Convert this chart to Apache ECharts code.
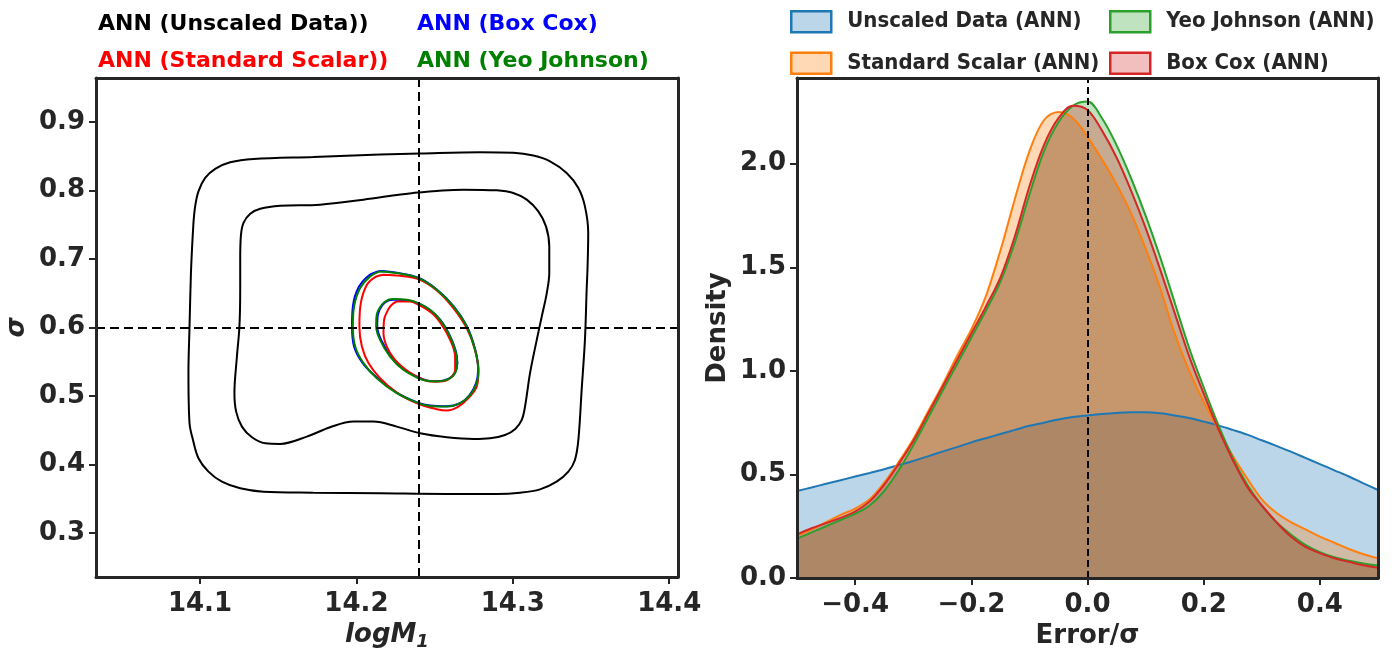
<!DOCTYPE html>
<html>
<head>
<meta charset="utf-8">
<script src="https://cdn.jsdelivr.net/npm/echarts@6/dist/echarts.min.js"></script>
<style>
  html, body { margin: 0; padding: 0; background: #fff; }
  #chart { width: 1400px; height: 657px; }
</style>
</head>
<body>
<div id="chart"></div>
<script>
// ---------- left panel: posterior contours in (logM1, sigma) ----------
const logM1Ticks = [14.1, 14.2, 14.3, 14.4];
const sigmaTicks = [0.3, 0.4, 0.5, 0.6, 0.7, 0.8, 0.9];
const trueLogM1 = 14.24;
const trueSigma = 0.6;

// Unscaled data: two broad contour levels
const unscaledOuter = [
  [14.0958,0.7526],[14.0969,0.7769],[14.0990,0.7988],[14.1033,0.8184],[14.1097,0.8316],
  [14.1193,0.8412],[14.1342,0.8462],[14.1725,0.8491],[14.2151,0.8525],[14.2407,0.8540],
  [14.2790,0.8558],[14.3003,0.8550],[14.3131,0.8510],[14.3238,0.8427],[14.3344,0.8257],
  [14.3419,0.8038],[14.3461,0.7769],[14.3482,0.7380],[14.3478,0.6900],[14.3472,0.6551],
  [14.3461,0.5820],[14.3440,0.5089],[14.3419,0.4358],[14.3397,0.4066],[14.3355,0.3895],
  [14.3280,0.3749],[14.3174,0.3637],[14.3046,0.3588],[14.2897,0.3569],[14.2578,0.3569],
  [14.2151,0.3579],[14.1725,0.3588],[14.1406,0.3602],[14.1257,0.3652],[14.1140,0.3749],
  [14.1054,0.3895],[14.0990,0.4091],[14.0955,0.4358],[14.0933,0.4602],[14.0926,0.5333],
  [14.0933,0.6015],[14.0942,0.6795],[14.0950,0.7200],[14.0958,0.7526]
];
const unscaledInner = [
  [14.1257,0.6990],[14.1261,0.7330],[14.1278,0.7526],[14.1321,0.7662],[14.1385,0.7735],
  [14.1512,0.7779],[14.1768,0.7794],[14.2045,0.7867],[14.2364,0.7965],[14.2684,0.8013],
  [14.2897,0.8003],[14.3003,0.7965],[14.3089,0.7867],[14.3163,0.7696],[14.3212,0.7477],
  [14.3233,0.7184],[14.3233,0.6795],[14.3217,0.6503],[14.3185,0.6161],[14.3153,0.5820],
  [14.3110,0.5333],[14.3078,0.4845],[14.3057,0.4651],[14.3014,0.4515],[14.2950,0.4431],
  [14.2854,0.4383],[14.2748,0.4373],[14.2578,0.4398],[14.2407,0.4456],[14.2258,0.4553],
  [14.2109,0.4626],[14.1981,0.4626],[14.1832,0.4544],[14.1683,0.4406],[14.1512,0.4300],
  [14.1417,0.4309],[14.1332,0.4397],[14.1268,0.4553],[14.1231,0.4772],[14.1220,0.5041],
  [14.1236,0.5576],[14.1252,0.6015],[14.1257,0.6551],[14.1257,0.6990]
];

// Box Cox
const boxCoxOuter = [
  [14.2151,0.6824],[14.2258,0.6800],[14.2396,0.6727],[14.2514,0.6556],[14.2622,0.6310],
  [14.2707,0.6015],[14.2760,0.5674],[14.2778,0.5382],[14.2765,0.5187],[14.2722,0.5010],
  [14.2660,0.4890],[14.2578,0.4850],[14.2471,0.4860],[14.2396,0.4900],[14.2260,0.5046],
  [14.2133,0.5265],[14.2040,0.5480],[14.1985,0.5722],[14.1972,0.6015],[14.1978,0.6320],
  [14.2015,0.6590],[14.2080,0.6760],[14.2151,0.6824]
];
const boxCoxInner = [
  [14.2237,0.6405],[14.2322,0.6398],[14.2396,0.6350],[14.2473,0.6252],[14.2538,0.6108],
  [14.2590,0.5915],[14.2633,0.5674],[14.2645,0.5485],[14.2630,0.5340],[14.2588,0.5250],
  [14.2514,0.5215],[14.2450,0.5228],[14.2400,0.5268],[14.2305,0.5390],[14.2222,0.5580],
  [14.2158,0.5820],[14.2133,0.6015],[14.2137,0.6186],[14.2167,0.6330],[14.2208,0.6398],
  [14.2237,0.6405]
];

// Standard Scalar
const standardOuter = [
  [14.2173,0.6770],[14.2279,0.6756],[14.2396,0.6708],[14.2514,0.6541],[14.2620,0.6284],
  [14.2705,0.5991],[14.2758,0.5674],[14.2780,0.5357],[14.2769,0.5137],[14.2716,0.4968],
  [14.2652,0.4845],[14.2578,0.4787],[14.2514,0.4807],[14.2396,0.4885],[14.2258,0.5050],
  [14.2151,0.5260],[14.2077,0.5480],[14.2035,0.5722],[14.2019,0.6015],[14.2028,0.6357],
  [14.2067,0.6624],[14.2120,0.6737],[14.2173,0.6770]
];
const standardInner = [
  [14.2258,0.6380],[14.2343,0.6380],[14.2396,0.6332],[14.2482,0.6211],[14.2546,0.6039],
  [14.2599,0.5820],[14.2631,0.5576],[14.2631,0.5382],[14.2599,0.5260],[14.2535,0.5211],
  [14.2471,0.5211],[14.2407,0.5260],[14.2332,0.5357],[14.2247,0.5528],[14.2194,0.5722],
  [14.2173,0.5918],[14.2177,0.6113],[14.2205,0.6269],[14.2226,0.6332],[14.2258,0.6380]
];

// Yeo Johnson
const yeoOuter = [
  [14.2151,0.6819],[14.2258,0.6795],[14.2396,0.6722],[14.2514,0.6551],[14.2620,0.6307],
  [14.2705,0.6015],[14.2758,0.5674],[14.2780,0.5382],[14.2769,0.5187],[14.2727,0.5016],
  [14.2663,0.4895],[14.2578,0.4845],[14.2471,0.4855],[14.2396,0.4895],[14.2258,0.5041],
  [14.2130,0.5260],[14.2045,0.5480],[14.1992,0.5722],[14.1977,0.6015],[14.1985,0.6307],
  [14.2024,0.6576],[14.2088,0.6746],[14.2151,0.6819]
];
const yeoInner = [
  [14.2237,0.6415],[14.2322,0.6405],[14.2396,0.6357],[14.2471,0.6259],[14.2535,0.6113],
  [14.2588,0.5918],[14.2631,0.5674],[14.2645,0.5480],[14.2631,0.5333],[14.2588,0.5246],
  [14.2514,0.5211],[14.2450,0.5221],[14.2396,0.5260],[14.2300,0.5382],[14.2215,0.5576],
  [14.2151,0.5820],[14.2126,0.6015],[14.2130,0.6186],[14.2162,0.6332],[14.2205,0.6405],
  [14.2237,0.6415]
];

// ---------- right panel: KDE of Error/sigma ----------
const errorGrid = [
  -0.5,-0.475,-0.45,-0.425,-0.4,-0.375,-0.35,-0.325,-0.3,-0.275,-0.25,-0.225,-0.2,-0.175,
  -0.15,-0.125,-0.1,-0.075,-0.05,-0.025,0,0.025,0.05,0.075,0.1,0.125,0.15,0.175,0.2,0.225,
  0.25,0.275,0.3,0.325,0.35,0.375,0.4,0.425,0.45,0.475,0.5
];
const densityUnscaled = [
  0.42,0.437,0.455,0.472,0.49,0.507,0.525,0.545,0.565,0.587,0.61,0.632,0.655,0.675,
  0.695,0.715,0.735,0.75,0.765,0.777,0.785,0.792,0.797,0.80,0.80,0.795,0.785,0.772,0.755,0.737,
  0.715,0.692,0.665,0.638,0.61,0.58,0.55,0.52,0.49,0.457,0.425
];
const densityStandard = [
  0.205,0.235,0.27,0.305,0.335,0.38,0.46,0.56,0.67,0.80,0.93,1.07,1.20,1.36,
  1.58,1.83,2.06,2.21,2.25,2.22,2.13,2.02,1.90,1.76,1.59,1.40,1.18,1.00,0.85,0.72,
  0.59,0.48,0.38,0.315,0.27,0.235,0.20,0.17,0.14,0.115,0.095
];
const densityYeo = [
  0.19,0.22,0.25,0.28,0.31,0.35,0.42,0.52,0.64,0.77,0.90,1.03,1.16,1.29,
  1.43,1.62,1.85,2.06,2.20,2.28,2.30,2.22,2.09,1.93,1.75,1.55,1.33,1.11,0.92,0.74,
  0.58,0.45,0.35,0.27,0.21,0.16,0.125,0.10,0.083,0.07,0.06
];
const densityBoxCox = [
  0.21,0.24,0.265,0.29,0.32,0.37,0.45,0.55,0.66,0.79,0.92,1.05,1.18,1.31,
  1.45,1.65,1.89,2.09,2.22,2.28,2.26,2.16,2.03,1.87,1.69,1.49,1.28,1.07,0.89,0.72,
  0.57,0.44,0.35,0.27,0.20,0.15,0.12,0.095,0.078,0.062,0.05
];
const errorTicks = [-0.4, -0.2, 0.0, 0.2, 0.4];
const densityTicks = [0.0, 0.5, 1.0, 1.5, 2.0];

const FONT = '"DejaVu Sans", sans-serif';
const INK = '#262626';

const chart = echarts.init(document.getElementById('chart'), null, { renderer: 'canvas' });

function fmt(v) {
  return (v < 0 ? '\u2212' : '') + Math.abs(v).toFixed(1);
}
function pairs(xs, ys) { return xs.map((x, i) => [x, ys[i]]); }

const tickLabel = { fontFamily: FONT, fontWeight: 'bold', fontSize: 26, color: INK };

function mainX(grid, min, max, ticks, name, nameGap, rich) {
  return {
    type: 'value', gridIndex: grid, min: min, max: max, z: 10,
    axisLine: { show: true, onZero: false, lineStyle: { color: INK, width: 3 } },
    axisTick: { show: true, length: 7, lineStyle: { color: INK, width: 2 }, customValues: ticks },
    axisLabel: Object.assign({ margin: 14, formatter: fmt, customValues: ticks }, tickLabel),
    splitLine: { show: false },
    name: name, nameLocation: 'middle', nameGap: nameGap,
    nameTextStyle: Object.assign({ fontFamily: FONT, fontWeight: 'bold', fontSize: 26, color: INK }, rich || {})
  };
}
function mainY(grid, min, max, ticks, name, nameGap, extra) {
  return {
    type: 'value', gridIndex: grid, min: min, max: max, z: 10,
    axisLine: { show: true, onZero: false, lineStyle: { color: INK, width: 3 } },
    axisTick: { show: true, length: 7, lineStyle: { color: INK, width: 2 }, customValues: ticks },
    axisLabel: Object.assign({ margin: 11, formatter: fmt, customValues: ticks }, tickLabel),
    splitLine: { show: false },
    name: name, nameLocation: 'middle', nameGap: nameGap, nameRotate: 90,
    nameTextStyle: Object.assign({ fontFamily: FONT, fontWeight: 'bold', fontSize: 26, color: INK }, extra || {})
  };
}
function spine(grid, min, max, pos) {
  return {
    type: 'value', gridIndex: grid, min: min, max: max, position: pos, z: 10,
    axisLine: { show: true, onZero: false, lineStyle: { color: INK, width: 3 } },
    axisTick: { show: false }, axisLabel: { show: false }, splitLine: { show: false }
  };
}

const LX = [14.0335, 14.4056], LY = [0.2357, 0.9643];
const RX = [-0.5, 0.5], RY = [0, 2.414];

function contour(name, data, color, width, extra) {
  return Object.assign({
    type: 'line', name: name, xAxisIndex: 0, yAxisIndex: 0,
    data: data, showSymbol: false, symbol: 'none', smooth: 0.35,
    lineStyle: { color: color, width: width }, silent: true
  }, extra || {});
}
function kde(name, ys, color, extra) {
  return Object.assign({
    type: 'line', name: name, xAxisIndex: 1, yAxisIndex: 1,
    data: pairs(errorGrid, ys), showSymbol: false, symbol: 'none', smooth: 0.35,
    lineStyle: { color: color, width: 2 }, itemStyle: { color: color },
    areaStyle: { color: color, opacity: 0.3 }, silent: true
  }, extra || {});
}

const dashed = { color: '#000', width: 2, type: [9, 5] };

const colors = { unscaled: '#1f77b4', standard: '#ff7f0e', yeo: '#2ca02c', boxcox: '#d62728' };
function legendItem(name, color, rgba) {
  return { name: name, icon: 'rect', itemStyle: { color: rgba, borderColor: color, borderWidth: 2.5 } };
}
const legendText = { fontFamily: '"DejaVu Sans Condensed", "DejaVu Sans", sans-serif', fontWeight: 'bold', fontSize: 22, color: INK, padding: [0, 0, 0, 11] };

chart.setOption({
  animation: false,
  backgroundColor: '#fff',
  grid: [
    { left: 96, top: 78, width: 582, height: 499 },
    { left: 797, top: 78, width: 581, height: 500 }
  ],
  xAxis: [
    mainX(0, LX[0], LX[1], logM1Ticks, '{m|logM}{s|1}', 42, {
      rich: {
        m: { fontFamily: FONT, fontWeight: 'bold', fontStyle: 'italic', fontSize: 26, color: INK },
        s: { fontFamily: FONT, fontWeight: 'bold', fontStyle: 'italic', fontSize: 18, color: INK, padding: [14, 0, 0, 0] }
      }
    }),
    mainX(1, RX[0], RX[1], errorTicks, 'Error/\u03c3', 43),
    spine(0, LX[0], LX[1], 'top'),
    spine(1, RX[0], RX[1], 'top')
  ],
  yAxis: [
    mainY(0, LY[0], LY[1], sigmaTicks, '\u03c3', 66, { fontStyle: 'italic' }),
    mainY(1, RY[0], RY[1], densityTicks, 'Density', 66),
    spine(0, LY[0], LY[1], 'right'),
    spine(1, RY[0], RY[1], 'right')
  ],
  legend: [
    {
      left: 790, top: 10, orient: 'vertical', itemWidth: 40, itemHeight: 21, itemGap: 18, padding: 0,
      selectedMode: false, textStyle: legendText,
      data: [
        legendItem('Unscaled Data (ANN)', colors.unscaled, 'rgba(31,119,180,0.3)'),
        legendItem('Standard Scalar (ANN)', colors.standard, 'rgba(255,127,14,0.3)')
      ]
    },
    {
      left: 1109, top: 10, orient: 'vertical', itemWidth: 40, itemHeight: 21, itemGap: 18, padding: 0,
      selectedMode: false, textStyle: legendText,
      data: [
        legendItem('Yeo Johnson (ANN)', colors.yeo, 'rgba(44,160,44,0.3)'),
        legendItem('Box Cox (ANN)', colors.boxcox, 'rgba(214,39,40,0.3)')
      ]
    }
  ],
  graphic: [
    { type: 'text', left: 98, top: 13, silent: true,
      style: { text: 'ANN (Unscaled Data))', fill: '#000', font: 'bold 22px ' + FONT } },
    { type: 'text', left: 417, top: 13, silent: true,
      style: { text: 'ANN (Box Cox)', fill: '#0000ff', font: 'bold 22px ' + FONT } },
    { type: 'text', left: 98, top: 50, silent: true,
      style: { text: 'ANN (Standard Scalar))', fill: '#ff0000', font: 'bold 22px ' + FONT } },
    { type: 'text', left: 417, top: 50, silent: true,
      style: { text: 'ANN (Yeo Johnson)', fill: '#008000', font: 'bold 22px ' + FONT } }
  ],
  series: [
    contour('Unscaled outer', unscaledOuter, '#000', 2),
    contour('Unscaled inner', unscaledInner, '#000', 2, {
      markLine: {
        silent: true, symbol: 'none', label: { show: false }, lineStyle: dashed,
        data: [{ xAxis: trueLogM1 }, { yAxis: trueSigma }]
      }
    }),
    contour('Box Cox outer', boxCoxOuter, '#0000ff', 2),
    contour('Box Cox inner', boxCoxInner, '#0000ff', 2),
    contour('Standard outer', standardOuter, '#ff0000', 2),
    contour('Standard inner', standardInner, '#ff0000', 2),
    contour('Yeo outer', yeoOuter, '#008000', 2),
    contour('Yeo inner', yeoInner, '#008000', 2),

    kde('Unscaled Data (ANN)', densityUnscaled, colors.unscaled),
    kde('Standard Scalar (ANN)', densityStandard, colors.standard),
    kde('Yeo Johnson (ANN)', densityYeo, colors.yeo),
    kde('Box Cox (ANN)', densityBoxCox, colors.boxcox, {
      markLine: {
        silent: true, symbol: 'none', label: { show: false },
        lineStyle: { color: '#000', width: 2, type: [7, 4] },
        data: [{ xAxis: 0 }]
      }
    })
  ]
});
</script>
</body>
</html>
